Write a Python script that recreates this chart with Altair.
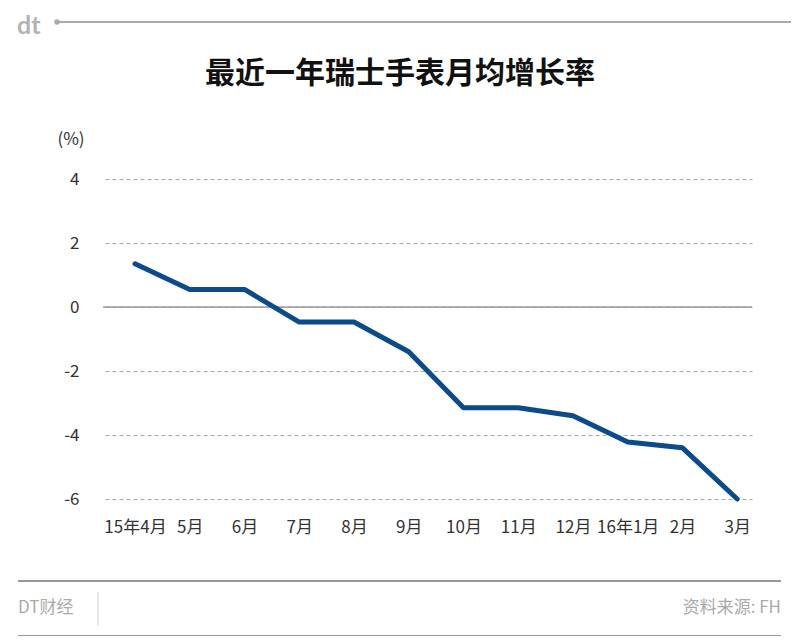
import altair as alt
import pandas as pd

months = ["15年4月", "5月", "6月", "7月", "8月", "9月", "10月", "11月", "12月", "16年1月", "2月", "3月"]
growth = [1.35, 0.55, 0.55, -0.47, -0.47, -1.4, -3.15, -3.15, -3.4, -4.22, -4.4, -6.0]
y_ticks = [-6, -4, -2, 0, 2, 4]

title_text = "最近一年瑞士手表月均增长率"
unit_text = "(%)"
brand_text = "DT财经"
source_text = "资料来源: FH"

FONT = "Noto Sans CJK SC"
W, H = 647, 320

df = pd.DataFrame({"idx": list(range(len(months))), "month": months, "growth": growth})
label_expr = "[" + ",".join("'" + m + "'" for m in months) + "][datum.value]"

base = alt.Chart(df)

line = base.mark_line(color="#0b4a8b", strokeWidth=5, strokeCap="round", strokeJoin="round").encode(
    x=alt.X("idx:Q", scale=alt.Scale(domain=[-0.548, 11.27], nice=False, zero=False),
            axis=alt.Axis(values=list(range(len(months))), labelExpr=label_expr, title=None,
                          grid=False, domain=False, ticks=False, labelPadding=20,
                          labelFontSize=17, labelColor="#333", labelFont=FONT)),
    y=alt.Y("growth:Q", scale=alt.Scale(domain=[-6, 4], nice=False),
            axis=alt.Axis(values=y_ticks, labelExpr="datum.value + ''", title=None,
                          grid=True, gridDash=[4, 3], gridColor="#aaa", gridWidth=1,
                          domain=False, ticks=False, labelPadding=26,
                          labelFontSize=17, labelColor="#333", labelFont=FONT)),
)

one = pd.DataFrame({"a": [0]})

zero_rule = alt.Chart(one).mark_rule(color="#999", strokeWidth=1.5).encode(
    y=alt.datum(0), x=alt.value(-2), x2=alt.value(W)
)

def txt(text, x, y, size, color, weight="normal", align="center", baseline="middle", font=FONT):
    return alt.Chart(one).mark_text(text=text, font=font, fontSize=size, color=color,
                                    fontWeight=weight, align=align, baseline=baseline).encode(
        x=alt.value(x), y=alt.value(y))

def rule(x1, x2, y1, y2, color, width):
    return alt.Chart(one).mark_rule(color=color, strokeWidth=width).encode(
        x=alt.value(x1), x2=alt.value(x2), y=alt.value(y1), y2=alt.value(y2))

title = txt(title_text, 295, -105, 30, "#111", weight="bold")
unit = txt(unit_text, -34, -39, 17, "#333")

logo = txt("dt", -88, -145, 25, "#b3b3b3", weight="bold", align="left",
           baseline="alphabetic", font="Lato")
head_line = rule(-50, 700, -157, -157, "#aaa", 2)
head_dot = alt.Chart(one).mark_point(filled=True, color="#aaa", size=30, opacity=1).encode(
    x=alt.value(-48), y=alt.value(-157))

foot_top = rule(-87, 676, 402, 402, "#999", 2)
foot_bot = rule(-87, 676, 457, 457, "#999", 2)
sep = rule(-7, -7, 413, 447, "#ccc", 1)
brand = txt(brand_text, -87, 429, 17, "#aaa", align="left")
source = txt(source_text, 676, 429, 17, "#aaa", align="right")

chart = alt.layer(
    zero_rule, line, title, unit, logo, head_line, head_dot,
    foot_top, foot_bot, sep, brand, source
).properties(
    width=W, height=H,
    background="white",
    autosize=alt.AutoSizeParams(type="none"),
    padding={"left": 97, "top": 171, "right": 39, "bottom": 137},
).configure_view(stroke=None)

chart.save("out.html", embed_options={"renderer": "svg", "actions": False})
